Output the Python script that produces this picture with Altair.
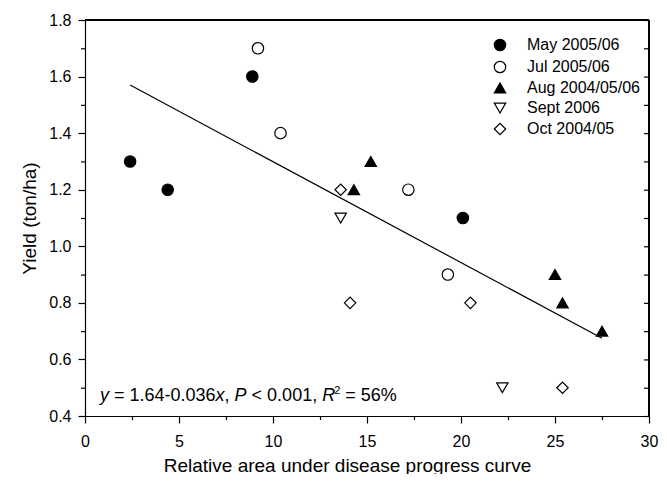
import altair as alt
import pandas as pd

FONT = "Liberation Sans"

# ---- data ----
series_names = ["May 2005/06", "Jul 2005/06", "Aug 2004/05/06", "Sept 2006", "Oct 2004/05"]
may_x = [2.4, 4.4, 8.9, 20.1]
may_y = [1.3, 1.2, 1.6, 1.1]
jul_x = [9.2, 10.4, 17.2, 19.3]
jul_y = [1.7, 1.4, 1.2, 0.9]
aug_x = [14.3, 15.2, 25.0, 25.4, 27.5]
aug_y = [1.2, 1.3, 0.9, 0.8, 0.7]
sept_x = [13.6, 22.2]
sept_y = [1.1, 0.5]
oct_x = [13.6, 14.1, 20.5, 25.4]
oct_y = [1.2, 0.8, 0.8, 0.5]
fit_x = [2.4, 27.5]
fit_y = [1.57, 0.675]
x_major = [0, 5, 10, 15, 20, 25, 30]
x_minor = [2.5, 7.5, 12.5, 17.5, 22.5, 27.5]
y_major = [0.4, 0.6, 0.8, 1.0, 1.2, 1.4, 1.6, 1.8]
y_minor = [0.5, 0.7, 0.9, 1.1, 1.3, 1.5, 1.7]
y_all = [0.4, 0.5, 0.6, 0.7, 0.8, 0.9, 1.0, 1.1, 1.2, 1.3, 1.4, 1.5, 1.6, 1.7, 1.8]
x_max = [30]
y_max = [1.8]

shapes = ["circle", "circle", "triangle-up", "triangle-down", "diamond"]
fills = ["black", "white", "black", "white", "white"]
strokes = ["black", "black", "black", "black", "black"]
sizes = [130, 130, 160, 100, 160]

rows = []
for name, xs, ys in zip(series_names, [may_x, jul_x, aug_x, sept_x, oct_x],
                        [may_y, jul_y, aug_y, sept_y, oct_y]):
    for xv, yv in zip(xs, ys):
        rows.append({"series": name, "x": xv, "y": yv})
df = pd.DataFrame(rows)
fit_df = pd.DataFrame({"x": fit_x, "y": fit_y})

W, H = 564, 396
xscale = alt.Scale(domain=[0, 30], nice=False, zero=False)
yscale = alt.Scale(domain=[0.4, 1.8], nice=False, zero=False)

x_axis = alt.Axis(values=x_major, grid=False, labelFlush=False, labelOverlap=False,
                  tickSize=7, format="d", labelPadding=10,
                  titleX=262, titleY=55, titleAlign="center", titleBaseline="alphabetic",
                  titleAnchor="start")
y_axis = alt.Axis(values=y_major, grid=False, labelOverlap=False, tickSize=7,
                  format=".1f", labelPadding=7, titlePadding=9)
XT = "Relative area under disease progress curve"
YT = "Yield (ton/ha)"

legend = alt.Legend(
    title=None, orient="none", legendX=407, legendY=17, padding=0,
    labelFont=FONT, labelFontSize=16, labelColor="black", labelOffset=19,
    rowPadding=4, symbolStrokeColor="black", symbolStrokeWidth=1.2,
)

line = alt.Chart(fit_df).mark_line(color="black", strokeWidth=1.2).encode(
    x=alt.X("x:Q", scale=xscale, axis=x_axis, title=XT),
    y=alt.Y("y:Q", scale=yscale, axis=y_axis, title=YT),
)

points = alt.Chart(df).mark_point(
    filled=True, strokeWidth=1.2, opacity=1
).encode(
    x=alt.X("x:Q", scale=xscale, axis=x_axis, title=XT),
    y=alt.Y("y:Q", scale=yscale, axis=y_axis, title=YT),
    shape=alt.Shape("series:N", scale=alt.Scale(domain=series_names, range=shapes), legend=legend),
    fill=alt.Fill("series:N", scale=alt.Scale(domain=series_names, range=fills), legend=legend),
    stroke=alt.Stroke("series:N", scale=alt.Scale(domain=series_names, range=strokes), legend=legend),
    size=alt.Size("series:N", scale=alt.Scale(domain=series_names, range=sizes), legend=legend),
)

# minor ticks (outward) on left and bottom, inward ticks on right edge
ymin_ticks = alt.Chart(pd.DataFrame({"y": y_minor})).mark_rule(
    color="black", strokeWidth=1.2, yOffset=0.5).encode(
    y=alt.Y("y:Q", scale=yscale, axis=y_axis, title=YT), x=alt.value(-4), x2=alt.value(0))
xmin_ticks = alt.Chart(pd.DataFrame({"x": x_minor})).mark_rule(
    color="black", strokeWidth=1.2, xOffset=0.5).encode(
    x=alt.X("x:Q", scale=xscale, axis=x_axis, title=XT), y=alt.value(H), y2=alt.value(H + 4))
right_ticks = alt.Chart(pd.DataFrame({"y": y_all})).mark_rule(
    color="black", strokeWidth=1.2, yOffset=0.5).encode(
    y=alt.Y("y:Q", scale=yscale, axis=y_axis, title=YT), x=alt.value(W - 5), x2=alt.value(W))

# frame: top and right borders (2px so they stay visible)
frame_top = alt.Chart(pd.DataFrame({"y": y_max})).mark_rule(
    color="black", strokeWidth=2).encode(
    y=alt.Y("y:Q", scale=yscale, axis=y_axis, title=YT), x=alt.value(0), x2=alt.value(W))
frame_right = alt.Chart(pd.DataFrame({"x": x_max})).mark_rule(
    color="black", strokeWidth=2).encode(
    x=alt.X("x:Q", scale=xscale, axis=x_axis, title=XT), y=alt.value(0), y2=alt.value(H))

# ---- annotation with italic parts ----
EM = {"y": .5, "x": .5, "P": .667, "R": .722, " ": .278, "=": .584, "<": .584, "-": .333,
      ".": .278, ",": .278, "%": .889}
for d in "0123456789":
    EM[d] = .556


def wid(s, f):
    return sum(EM[c] for c in s) * f


FS = 18
segments = [("y", "italic"), (" = 1.64-0.036", "normal"), ("x", "italic"), (", ", "normal"),
            ("P", "italic"), (" < 0.001, ", "normal"), ("R", "italic"), ("2", "sup"),
            (" = 56%", "normal")]
ann_layers = []
cx = 15.0
base_y = 381
for txt, style in segments:
    if style == "sup":
        fs = 11
        ann_layers.append(alt.Chart(pd.DataFrame({"t": [txt]})).mark_text(
            align="left", baseline="alphabetic", font=FONT, fontSize=fs, color="black",
        ).encode(x=alt.value(cx - 1), y=alt.value(base_y - 7), text="t:N"))
        cx += wid(txt, fs) - 1
    else:
        lead = len(txt) - len(txt.lstrip(" "))
        ann_layers.append(alt.Chart(pd.DataFrame({"t": [txt.strip(" ")]})).mark_text(
            align="left", baseline="alphabetic", font=FONT, fontSize=FS, color="black",
            fontStyle=style,
        ).encode(x=alt.value(cx + wid(" " * lead, FS)), y=alt.value(base_y), text="t:N"))
        cx += wid(txt, FS)

chart = alt.layer(line, ymin_ticks, xmin_ticks, right_ticks, frame_top, frame_right,
                  points, *ann_layers).properties(
    width=W, height=H, autosize="none",
    padding={"left": 77, "top": 12, "right": 10, "bottom": 58},
).configure_view(stroke="black", strokeWidth=1).configure_axis(
    domainColor="black", domainWidth=1.2, tickColor="black", tickWidth=1.2,
    labelColor="black", titleColor="black", labelFont=FONT, titleFont=FONT,
    labelFontSize=16, titleFontSize=19, titleFontWeight="normal",
)

chart.save("out.html", embed_options={"renderer": "svg", "actions": False})
